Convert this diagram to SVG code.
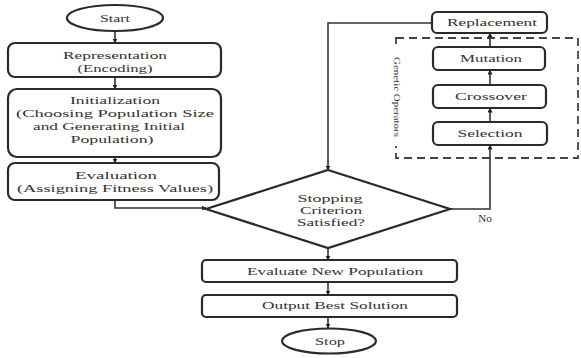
<svg xmlns="http://www.w3.org/2000/svg" width="581" height="358" viewBox="0 0 581 358">
<defs>
<marker id="ah" viewBox="0 0 10 10" refX="9" refY="5" markerWidth="5" markerHeight="5" orient="auto" markerUnits="userSpaceOnUse">
<path d="M0,0 L10,5 L0,10 z" fill="#222"/>
</marker>
<style>
.box{fill:#fff;stroke:#2a2a2a;stroke-width:2.2}
.t{font-family:'Liberation Serif',serif;font-size:11px;fill:#333;text-anchor:middle}
.c{fill:none;stroke:#333;stroke-width:1.6;marker-end:url(#ah)}
.dash{fill:none;stroke:#444;stroke-width:1.8;stroke-dasharray:8 5}
</style>
</defs>
<rect width="581" height="358" fill="#fff"/>

<g id="genetic-operators">
<rect class="dash" x="396" y="38" width="182" height="120"/>
<rect x="390" y="46" width="14" height="100" fill="#fff"/>
<text class="t" font-family="Liberation Serif, serif" transform="translate(397,97) rotate(90)" y="3" style="font-size:9px" textLength="80" lengthAdjust="spacingAndGlyphs">Genetic Operators</text>
</g>

<g id="connectors">
<path class="c" d="M115,31 V43"/>
<path class="c" d="M115,77 V89"/>
<path class="c" d="M115,157 V163"/>
<path class="c" d="M115,200 V208 H206"/>
<path class="c" d="M432,23 H328 V170"/>
<path class="c" d="M328,248 V260"/>
<path class="c" d="M328,282 V295"/>
<path class="c" d="M328,317 V328"/>
<path class="c" d="M450,209 H490 V145"/>
<path class="c" d="M490,122 V108"/>
<path class="c" d="M490,85 V70"/>
<path class="c" d="M490,47 V33"/>
</g>

<g font-family="Liberation Serif, serif">
<g id="start">
<ellipse class="box" cx="115" cy="18" rx="48" ry="13"/>
<text class="t" x="115" y="22" textLength="30" lengthAdjust="spacingAndGlyphs">Start</text>
</g>

<g id="representation">
<rect class="box" x="8" y="43" width="213" height="34" rx="7"/>
<text class="t" x="115" y="59" textLength="104" lengthAdjust="spacingAndGlyphs">Representation</text>
<text class="t" x="115" y="72" textLength="75" lengthAdjust="spacingAndGlyphs">(Encoding)</text>
</g>

<g id="initialization">
<rect class="box" x="8" y="89" width="213" height="68" rx="9"/>
<text class="t" x="115" y="104" textLength="90" lengthAdjust="spacingAndGlyphs">Initialization</text>
<text class="t" x="115" y="117" textLength="198" lengthAdjust="spacingAndGlyphs">(Choosing Population Size</text>
<text class="t" x="109" y="130" textLength="152" lengthAdjust="spacingAndGlyphs">and Generating Initial</text>
<text class="t" x="112" y="143" textLength="83" lengthAdjust="spacingAndGlyphs">Population)</text>
</g>

<g id="evaluation">
<rect class="box" x="8" y="163" width="211" height="37" rx="7"/>
<text class="t" x="116" y="179" textLength="82" lengthAdjust="spacingAndGlyphs">Evaluation</text>
<text class="t" x="115" y="192" textLength="196" lengthAdjust="spacingAndGlyphs">(Assigning Fitness Values)</text>
</g>

<g id="stopping-criterion">
<polygon class="box" points="328,170 450,209 328,248 206,209"/>
<text class="t" x="330" y="202" textLength="65" lengthAdjust="spacingAndGlyphs">Stopping</text>
<text class="t" x="331" y="214" textLength="62" lengthAdjust="spacingAndGlyphs">Criterion</text>
<text class="t" x="331" y="226" textLength="68" lengthAdjust="spacingAndGlyphs">Satisfied?</text>
</g>

<g id="evaluate-new-population">
<rect class="box" x="202" y="260" width="255" height="22" rx="4"/>
<text class="t" x="335" y="275" textLength="176" lengthAdjust="spacingAndGlyphs">Evaluate New Population</text>
</g>

<g id="output-best-solution">
<rect class="box" x="202" y="295" width="255" height="22" rx="4"/>
<text class="t" x="335" y="309" textLength="146" lengthAdjust="spacingAndGlyphs">Output Best Solution</text>
</g>

<g id="stop">
<ellipse class="box" cx="329" cy="341" rx="47" ry="12.5"/>
<text class="t" x="330" y="345" textLength="30" lengthAdjust="spacingAndGlyphs">Stop</text>
</g>

<g id="replacement">
<rect class="box" x="432" y="12" width="115" height="21" rx="5"/>
<text class="t" x="492" y="26" textLength="90" lengthAdjust="spacingAndGlyphs">Replacement</text>
</g>

<g id="mutation">
<rect class="box" x="433" y="47" width="112" height="23" rx="5"/>
<text class="t" x="491" y="62" textLength="62" lengthAdjust="spacingAndGlyphs">Mutation</text>
</g>

<g id="crossover">
<rect class="box" x="433" y="85" width="113" height="23" rx="5"/>
<text class="t" x="491" y="100" textLength="72" lengthAdjust="spacingAndGlyphs">Crossover</text>
</g>

<g id="selection">
<rect class="box" x="433" y="122" width="114" height="23" rx="5"/>
<text class="t" x="490" y="137" textLength="65" lengthAdjust="spacingAndGlyphs">Selection</text>
</g>

<g id="no-label">
<text class="t" x="485" y="222">No</text>
</g>
</g>
</svg>
